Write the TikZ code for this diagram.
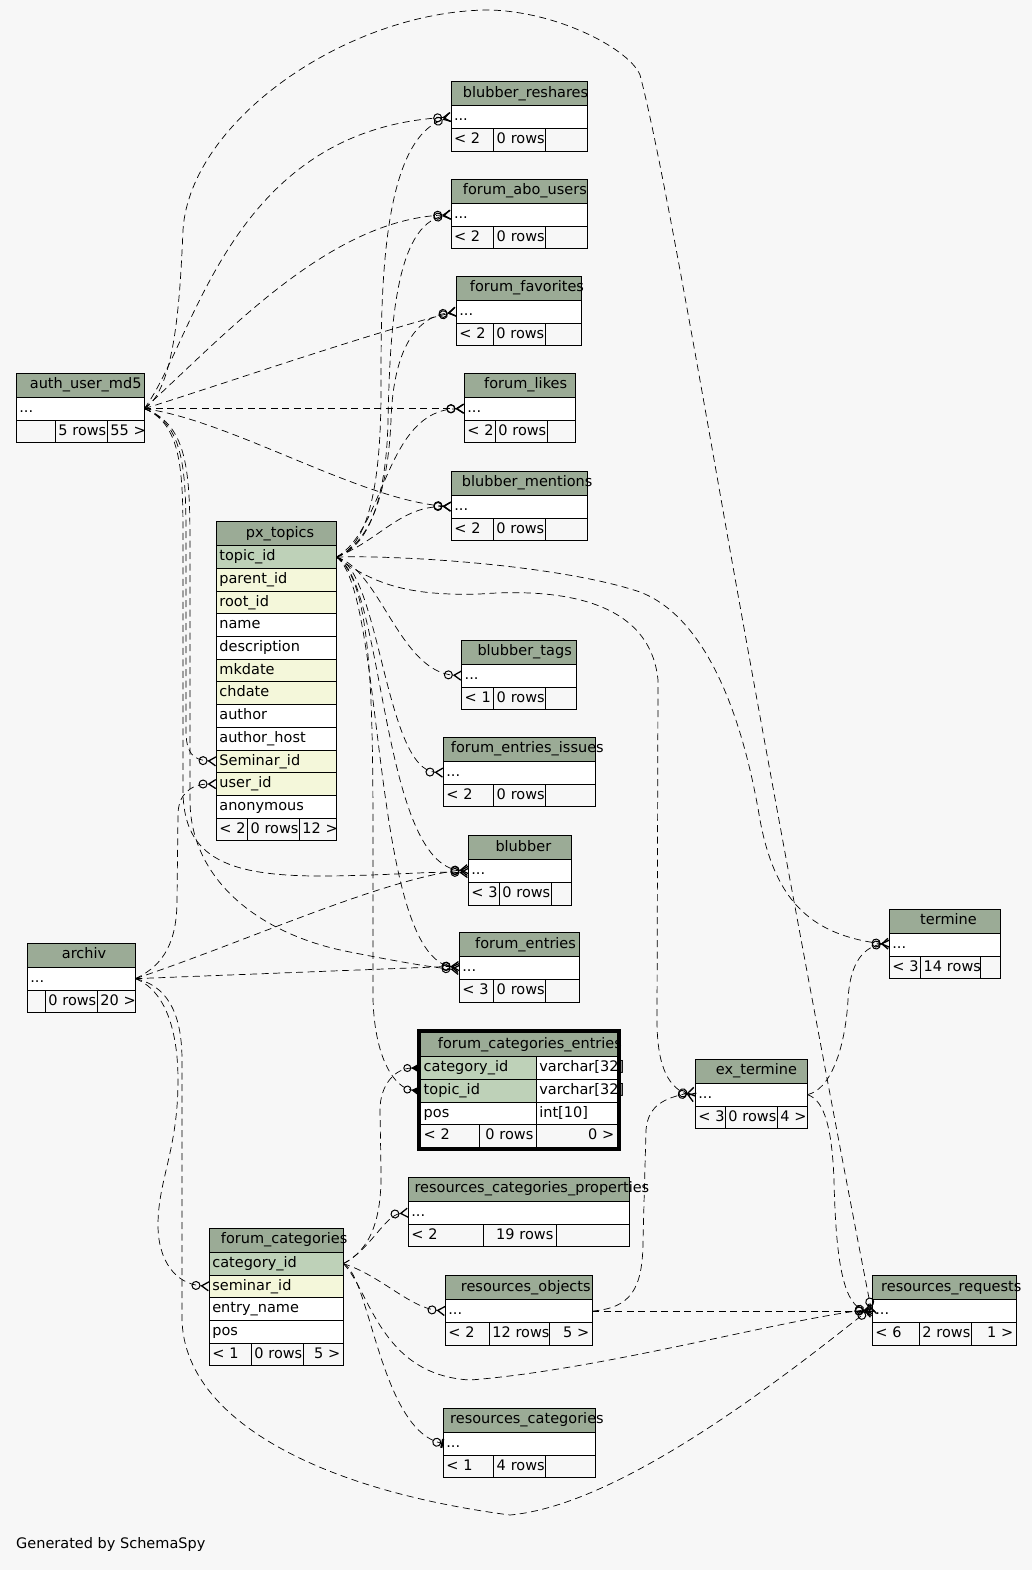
\documentclass[tikz,border=0pt]{standalone}
\usepackage{fontspec}
\setmainfont{DejaVu Sans}
\usetikzlibrary{positioning,arrows.meta}
\definecolor{hdcol}{HTML}{9BAB96}
\definecolor{pkcol}{HTML}{BED1B8}
\definecolor{fkcol}{HTML}{F4F7DA}
\definecolor{bgcol}{HTML}{F7F7F7}

\begin{document}
\begin{tikzpicture}[x=1pt,y=-1pt,
    font=\fontsize{14.5}{17}\selectfont,
    tabhd/.style={draw,fill=hdcol,line width=.9pt,outer sep=0pt,minimum width=#1pt,minimum height=24pt,inner sep=0pt,anchor=north west},
    tabcell/.style={draw,line width=.9pt,outer sep=0pt,text width=#1pt-6pt,minimum height=22.7pt,inner xsep=3pt,inner ysep=0pt,
      text height=10.5pt,text depth=3.2pt,align=left,anchor=north west},
    tabcellr/.style={tabcell=#1,align=right},
    rowcell/.style={tabcell=#1,fill=white},
    pkcell/.style={tabcell=#1,fill=pkcol},
    fkcell/.style={tabcell=#1,fill=fkcol},
    ttl/.style={anchor=west,inner sep=0pt,text height=10.5pt,text depth=3.2pt},
    rel/.style={line width=.7pt,dash pattern=on 7pt off 4.5pt},
    many/.style={rel,-{Circle[open,length=9pt,width=9pt,line width=1pt,sep=0pt]Straight Barb[reversed,length=7pt,width=9pt,line width=1.3pt,sep=0pt]}},
    topicrel/.style={rel,-{Circle[open,length=8pt,width=8pt,line width=1pt,sep=0pt]Triangle[reversed,length=6pt,width=7pt,sep=0pt]}},
    onerel/.style={rel,-{Circle[open,length=9pt,width=9pt,line width=1pt,sep=0pt]Bar[width=9pt,line width=2.2pt,sep=0pt]}}]

\fill[bgcol] (0,0) rectangle (1032,1570);
\useasboundingbox (0,0) rectangle (1032,1570);

% auth_user_md5
\node[tabhd=128] (auth) at (16.3,373.3) {};
\node[ttl] (auth-t) at (29.7,385.3) {auth\_user\_md5};
\node[rowcell=128,below=0pt of auth] (auth-d) {...};
\node[tabcell=39] (auth-f1) at (auth-d.south west) {};
\node[tabcellr=52,right=0pt of auth-f1] (auth-f2) {5~rows};
\node[tabcellr=37,right=0pt of auth-f2] (auth-f3) {55~>};

% px_topics
\node[tabhd=120] (pxt) at (216.4,521.7) {};
\node[ttl] (pxt-t) at (245.7,533.7) {px\_topics};
\node[pkcell=120,below=0pt of pxt] (pxt-topic) {topic\_id};
\node[fkcell=120,below=0pt of pxt-topic] (pxt-parent) {parent\_id};
\node[fkcell=120,below=0pt of pxt-parent] (pxt-root) {root\_id};
\node[rowcell=120,below=0pt of pxt-root] (pxt-name) {name};
\node[rowcell=120,below=0pt of pxt-name] (pxt-desc) {description};
\node[fkcell=120,below=0pt of pxt-desc] (pxt-mk) {mkdate};
\node[fkcell=120,below=0pt of pxt-mk] (pxt-ch) {chdate};
\node[rowcell=120,below=0pt of pxt-ch] (pxt-auth) {author};
\node[rowcell=120,below=0pt of pxt-auth] (pxt-host) {author\_host};
\node[fkcell=120,below=0pt of pxt-host] (pxt-sem) {Seminar\_id};
\node[fkcell=120,below=0pt of pxt-sem] (pxt-user) {user\_id};
\node[rowcell=120,below=0pt of pxt-user] (pxt-anon) {anonymous};
\node[tabcell=31.1] (pxt-f1) at (pxt-anon.south west) {<~2};
\node[tabcellr=51.8,right=0pt of pxt-f1] (pxt-f2) {0~rows};
\node[tabcellr=37.1,right=0pt of pxt-f2] (pxt-f3) {12~>};

% blubber_reshares
\node[tabhd=136.3] (resh) at (451,81.7) {};
\node[ttl] (resh-t) at (462.7,93.7) {blubber\_reshares};
\node[rowcell=136.3,below=0pt of resh] (resh-d) {...};
\node[tabcell=42.7] (resh-f1) at (resh-d.south west) {<~2};
\node[tabcellr=52,right=0pt of resh-f1] (resh-f2) {0~rows};
\node[tabcell=41.6,right=0pt of resh-f2] (resh-f3) {};

% forum_abo_users
\node[tabhd=136.3] (abo) at (451,179.3) {};
\node[ttl] (abo-t) at (462.7,191.3) {forum\_abo\_users};
\node[rowcell=136.3,below=0pt of abo] (abo-d) {...};
\node[tabcell=42.7] (abo-f1) at (abo-d.south west) {<~2};
\node[tabcellr=52,right=0pt of abo-f1] (abo-f2) {0~rows};
\node[tabcell=41.6,right=0pt of abo-f2] (abo-f3) {};

% forum_favorites
\node[tabhd=125.4] (fav) at (456.3,276.3) {};
\node[ttl] (fav-t) at (469.7,288.3) {forum\_favorites};
\node[rowcell=125.4,below=0pt of fav] (fav-d) {...};
\node[tabcell=37] (fav-f1) at (fav-d.south west) {<~2};
\node[tabcellr=52.4,right=0pt of fav-f1] (fav-f2) {0~rows};
\node[tabcell=36,right=0pt of fav-f2] (fav-f3) {};

% forum_likes
\node[tabhd=111.4] (lik) at (464.3,373.3) {};
\node[ttl] (lik-t) at (484,385.3) {forum\_likes};
\node[rowcell=111.4,below=0pt of lik] (lik-d) {...};
\node[tabcell=31] (lik-f1) at (lik-d.south west) {<~2};
\node[tabcellr=52,right=0pt of lik-f1] (lik-f2) {0~rows};
\node[tabcell=28.4,right=0pt of lik-f2] (lik-f3) {};

% blubber_mentions
\node[tabhd=136.4] (men) at (451.3,471.3) {};
\node[ttl] (men-t) at (461.7,483.3) {blubber\_mentions};
\node[rowcell=136.4,below=0pt of men] (men-d) {...};
\node[tabcell=42] (men-f1) at (men-d.south west) {<~2};
\node[tabcellr=52.4,right=0pt of men-f1] (men-f2) {0~rows};
\node[tabcell=42,right=0pt of men-f2] (men-f3) {};

% blubber_tags
\node[tabhd=114.6] (tag) at (461.7,640.3) {};
\node[ttl] (tag-t) at (477.3,652.3) {blubber\_tags};
\node[rowcell=114.6,below=0pt of tag] (tag-d) {...};
\node[tabcell=32] (tag-f1) at (tag-d.south west) {<~1};
\node[tabcellr=52,right=0pt of tag-f1] (tag-f2) {0~rows};
\node[tabcell=30.6,right=0pt of tag-f2] (tag-f3) {};

% forum_entries_issues
\node[tabhd=152] (iss) at (443.3,737.3) {};
\node[ttl] (iss-t) at (450.7,749.3) {forum\_entries\_issues};
\node[rowcell=152,below=0pt of iss] (iss-d) {...};
\node[tabcell=50.4] (iss-f1) at (iss-d.south west) {<~2};
\node[tabcellr=52,right=0pt of iss-f1] (iss-f2) {0~rows};
\node[tabcell=49.6,right=0pt of iss-f2] (iss-f3) {};

% blubber
\node[tabhd=103] (blb) at (468.3,835.7) {};
\node[ttl] (blb-t) at (495.3,847.7) {blubber};
\node[rowcell=103,below=0pt of blb] (blb-d) {...};
\node[tabcell=31] (blb-f1) at (blb-d.south west) {<~3};
\node[tabcellr=52,right=0pt of blb-f1] (blb-f2) {0~rows};
\node[tabcell=20,right=0pt of blb-f2] (blb-f3) {};

% forum_entries
\node[tabhd=120] (fen) at (459.3,932.7) {};
\node[ttl] (fen-t) at (475,944.7) {forum\_entries};
\node[rowcell=120,below=0pt of fen] (fen-d) {...};
\node[tabcell=34.4] (fen-f1) at (fen-d.south west) {<~3};
\node[tabcellr=52,right=0pt of fen-f1] (fen-f2) {0~rows};
\node[tabcell=33.6,right=0pt of fen-f2] (fen-f3) {};

% forum_categories_entries
\node[tabhd=196.6] (fce) at (420.7,1032.7) {};
\node[ttl] (fce-t) at (437.7,1044.7) {forum\_categories\_entries};
\node[pkcell=115.6] (fce-cat) at (fce.south west) {category\_id};
\node[rowcell=81,right=0pt of fce-cat] (fce-cat2) {varchar[32]};
\node[pkcell=115.6] (fce-topic) at (fce-cat.south west) {topic\_id};
\node[rowcell=81,right=0pt of fce-topic] (fce-topic2) {varchar[32]};
\node[rowcell=115.6] (fce-pos) at (fce-topic.south west) {pos};
\node[rowcell=81,right=0pt of fce-pos] (fce-pos2) {int[10]};
\node[tabcell=58.6] (fce-f1) at (fce-pos.south west) {<~2};
\node[tabcellr=57,right=0pt of fce-f1] (fce-f2) {0~rows};
\node[tabcellr=81,right=0pt of fce-f2] (fce-f3) {0~>};
\draw[line width=3.4pt] ([shift={(-1.7,-1.7)}]fce.north west) rectangle ([shift={(1.7,1.7)}]fce-f3.south east);

% resources_categories_properties
\node[tabhd=221] (rcp) at (408.3,1177.3) {};
\node[ttl] (rcp-t) at (414.3,1189.3) {resources\_categories\_properties};
\node[rowcell=221,below=0pt of rcp] (rcp-d) {...};
\node[tabcell=75] (rcp-f1) at (rcp-d.south west) {<~2};
\node[tabcellr=73,right=0pt of rcp-f1] (rcp-f2) {19~rows};
\node[tabcell=73,right=0pt of rcp-f2] (rcp-f3) {};

% resources_objects
\node[tabhd=147] (robj) at (445.3,1275.7) {};
\node[ttl] (robj-t) at (460.7,1287.7) {resources\_objects};
\node[rowcell=147,below=0pt of robj] (robj-d) {...};
\node[tabcell=44] (robj-f1) at (robj-d.south west) {<~2};
\node[tabcellr=60.4,right=0pt of robj-f1] (robj-f2) {12~rows};
\node[tabcellr=42.6,right=0pt of robj-f2] (robj-f3) {5~>};

% resources_categories
\node[tabhd=152] (rcat) at (443.3,1408.3) {};
\node[ttl] (rcat-t) at (450,1420.3) {resources\_categories};
\node[rowcell=152,below=0pt of rcat] (rcat-d) {...};
\node[tabcell=50.4] (rcat-f1) at (rcat-d.south west) {<~1};
\node[tabcell=52,right=0pt of rcat-f1] (rcat-f2) {4~rows};
\node[tabcell=49.6,right=0pt of rcat-f2] (rcat-f3) {};

% termine
\node[tabhd=111] (term) at (889.3,909.3) {};
\node[ttl] (term-t) at (920,921.3) {termine};
\node[rowcell=111,below=0pt of term] (term-d) {...};
\node[tabcell=31.4] (term-f1) at (term-d.south west) {<~3};
\node[tabcellr=60,right=0pt of term-f1] (term-f2) {14~rows};
\node[tabcell=19.6,right=0pt of term-f2] (term-f3) {};

% ex_termine
\node[tabhd=112] (ext) at (695.3,1059.3) {};
\node[ttl] (ext-t) at (715.7,1071.3) {ex\_termine};
\node[rowcell=112,below=0pt of ext] (ext-d) {...};
\node[tabcell=30] (ext-f1) at (ext-d.south west) {<~3};
\node[tabcellr=52,right=0pt of ext-f1] (ext-f2) {0~rows};
\node[tabcellr=30,right=0pt of ext-f2] (ext-f3) {4~>};

% resources_requests
\node[tabhd=144] (rreq) at (872.3,1275.7) {};
\node[ttl] (rreq-t) at (881,1287.7) {resources\_requests};
\node[rowcell=144,below=0pt of rreq] (rreq-d) {...};
\node[tabcell=47] (rreq-f1) at (rreq-d.south west) {<~6};
\node[tabcellr=52.4,right=0pt of rreq-f1] (rreq-f2) {2~rows};
\node[tabcellr=44.6,right=0pt of rreq-f2] (rreq-f3) {1~>};

% archiv
\node[tabhd=108] (arch) at (27.3,943.3) {};
\node[ttl] (arch-t) at (61.7,955.3) {archiv};
\node[rowcell=108,below=0pt of arch] (arch-d) {...};
\node[tabcell=18] (arch-f1) at (arch-d.south west) {};
\node[tabcellr=52,right=0pt of arch-f1] (arch-f2) {0~rows};
\node[tabcellr=38,right=0pt of arch-f2] (arch-f3) {20~>};

% forum_categories
\node[tabhd=134] (fcat) at (209.3,1228.3) {};
\node[ttl] (fcat-t) at (220.7,1240.3) {forum\_categories};
\node[pkcell=134,below=0pt of fcat] (fcat-cat) {category\_id};
\node[fkcell=134,below=0pt of fcat-cat] (fcat-sem) {seminar\_id};
\node[rowcell=134,below=0pt of fcat-sem] (fcat-name) {entry\_name};
\node[rowcell=134,below=0pt of fcat-name] (fcat-pos) {pos};
\node[tabcell=42] (fcat-f1) at (fcat-pos.south west) {<~1};
\node[tabcellr=52,right=0pt of fcat-f1] (fcat-f2) {0~rows};
\node[tabcellr=40,right=0pt of fcat-f2] (fcat-f3) {5~>};

\node[ttl] (gen) at (16,1545) {Generated by SchemaSpy};

% relations from auth_user_md5
\draw[many] (auth-d.east) .. controls (195,340) and (230,130) .. (resh-d.west);
\draw[many] (auth-d.east) .. controls (230,330) and (330,220) .. (abo-d.west);
\draw[many] (auth-d.east) .. controls (220,385) and (380,330) .. (fav-d.west);
\draw[many] (auth-d.east) -- (lik-d.west);
\draw[many] (auth-d.east) .. controls (230,420) and (360,500) .. (men-d.west);
\draw[many] (auth-d.east) .. controls (188,425) and (186,480) .. (186,560) -- (186,730) .. controls (186,752) and (192,760) .. (pxt-sem.west);
\draw[many] (auth-d.east) .. controls (185,425) and (183,480) .. (183,560) -- (183,790) .. controls (183,860) and (230,877) .. (330,876) .. controls (400,875) and (430,871) .. ([yshift=-2]blb-d.west);
\draw[many] (auth-d.east) .. controls (191,425) and (190,480) .. (190,560) -- (190,800) .. controls (190,880) and (260,935) .. (350,952) .. controls (400,962) and (430,967) .. ([yshift=-2]fen-d.west);
\draw[many] (auth-d.east) .. controls (175,390) and (180,300) .. (183,230) .. controls (190,120) and (350,10) .. (490,10) .. controls (560,12) and (630,50) .. (640,75) .. controls (660,150) and (700,380) .. (730,550) .. controls (780,830) and (840,1150) .. ([yshift=-4]rreq-d.west);

% relations from px_topics
\draw[many] (pxt-topic.east) .. controls (372,545) and (381,470) .. (381,390) .. controls (381,300) and (380,140) .. (resh-d.west);
\draw[many] (pxt-topic.east) .. controls (375,545) and (387,480) .. (388,420) .. controls (390,330) and (395,225) .. (abo-d.west);
\draw[many] (pxt-topic.east) .. controls (378,540) and (389,470) .. (391,420) .. controls (393,360) and (410,318) .. (fav-d.west);
\draw[many] (pxt-topic.east) .. controls (385,530) and (385,410) .. (lik-d.west);
\draw[many] (pxt-topic.east) .. controls (380,540) and (400,506) .. (men-d.west);
\draw[many] (pxt-topic.east) .. controls (380,570) and (400,672) .. (tag-d.west);
\draw[many] (pxt-topic.east) .. controls (380,570) and (385,770) .. (iss-d.west);
\draw[many] (pxt-topic.east) .. controls (385,580) and (380,865) .. (blb-d.west);
\draw[many] (pxt-topic.east) .. controls (385,590) and (370,955) .. (fen-d.west);
\draw[topicrel] (pxt-topic.east) .. controls (372,580) and (373,700) .. (373,850) -- (373,1000) .. controls (375,1060) and (395,1088) .. ([xshift=-3.4]fce-topic.west);
\draw[many] (pxt-topic.east) .. controls (375,585) and (410,596) .. (480,594) .. controls (560,588) and (650,600) .. (658,680) -- (657,1020) .. controls (657,1070) and (670,1088) .. ([yshift=-3]ext-d.west);
\draw[many] (pxt-topic.east) .. controls (400,555) and (560,565) .. (640,592) .. controls (700,615) and (740,700) .. (760,820) .. controls (775,900) and (810,935) .. (term-d.west);

% relations from archiv
\draw[many] (arch-d.east) .. controls (165,965) and (177,940) .. (177,900) -- (178,815) .. controls (178,795) and (190,784) .. (pxt-user.west);
\draw[many] (arch-d.east) .. controls (250,940) and (380,880) .. ([yshift=2]blb-d.west);
\draw[many] (arch-d.east) -- ([yshift=2]fen-d.west);
\draw[many] (arch-d.east) .. controls (165,990) and (178,1030) .. (178,1080) .. controls (178,1150) and (158,1180) .. (158,1225) .. controls (158,1260) and (175,1284) .. (fcat-sem.west);
\draw[many] (arch-d.east) .. controls (165,985) and (182,1010) .. (182,1060) -- (182,1320) .. controls (185,1420) and (320,1490) .. (510,1515) .. controls (620,1505) and (780,1380) .. ([yshift=4]rreq-d.west);

% relations from forum_categories
\draw[topicrel] (fcat-cat.east) .. controls (370,1250) and (382,1220) .. (381,1170) -- (380,1110) .. controls (380,1085) and (395,1068) .. ([xshift=-3.4]fce-cat.west);
\draw[many] (fcat-cat.east) .. controls (370,1250) and (385,1215) .. (rcp-d.west);
\draw[many] (fcat-cat.east) .. controls (380,1275) and (410,1308) .. (robj-d.west);
\draw[onerel] (fcat-cat.east) .. controls (370,1275) and (380,1430) .. (rcat-d.west);
\draw[many] (fcat-cat.east) .. controls (370,1290) and (380,1375) .. (470,1380) .. controls (600,1370) and (780,1320) .. ([yshift=2]rreq-d.west);

% relations from resources_objects and ex_termine
\draw[many] (robj-d.east) .. controls (630,1308) and (643,1290) .. (643,1240) -- (646,1130) .. controls (648,1105) and (665,1098) .. ([yshift=3]ext-d.west);
\draw[many] (robj-d.east) -- (rreq-d.west);
\draw[many] (ext-d.east) .. controls (830,1090) and (845,1050) .. (848,1000) .. controls (850,960) and (865,947) .. ([yshift=2]term-d.west);
\draw[many] (ext-d.east) .. controls (825,1100) and (832,1130) .. (834,1180) .. controls (836,1270) and (845,1305) .. ([yshift=-2]rreq-d.west);
\end{tikzpicture}
\end{document}
